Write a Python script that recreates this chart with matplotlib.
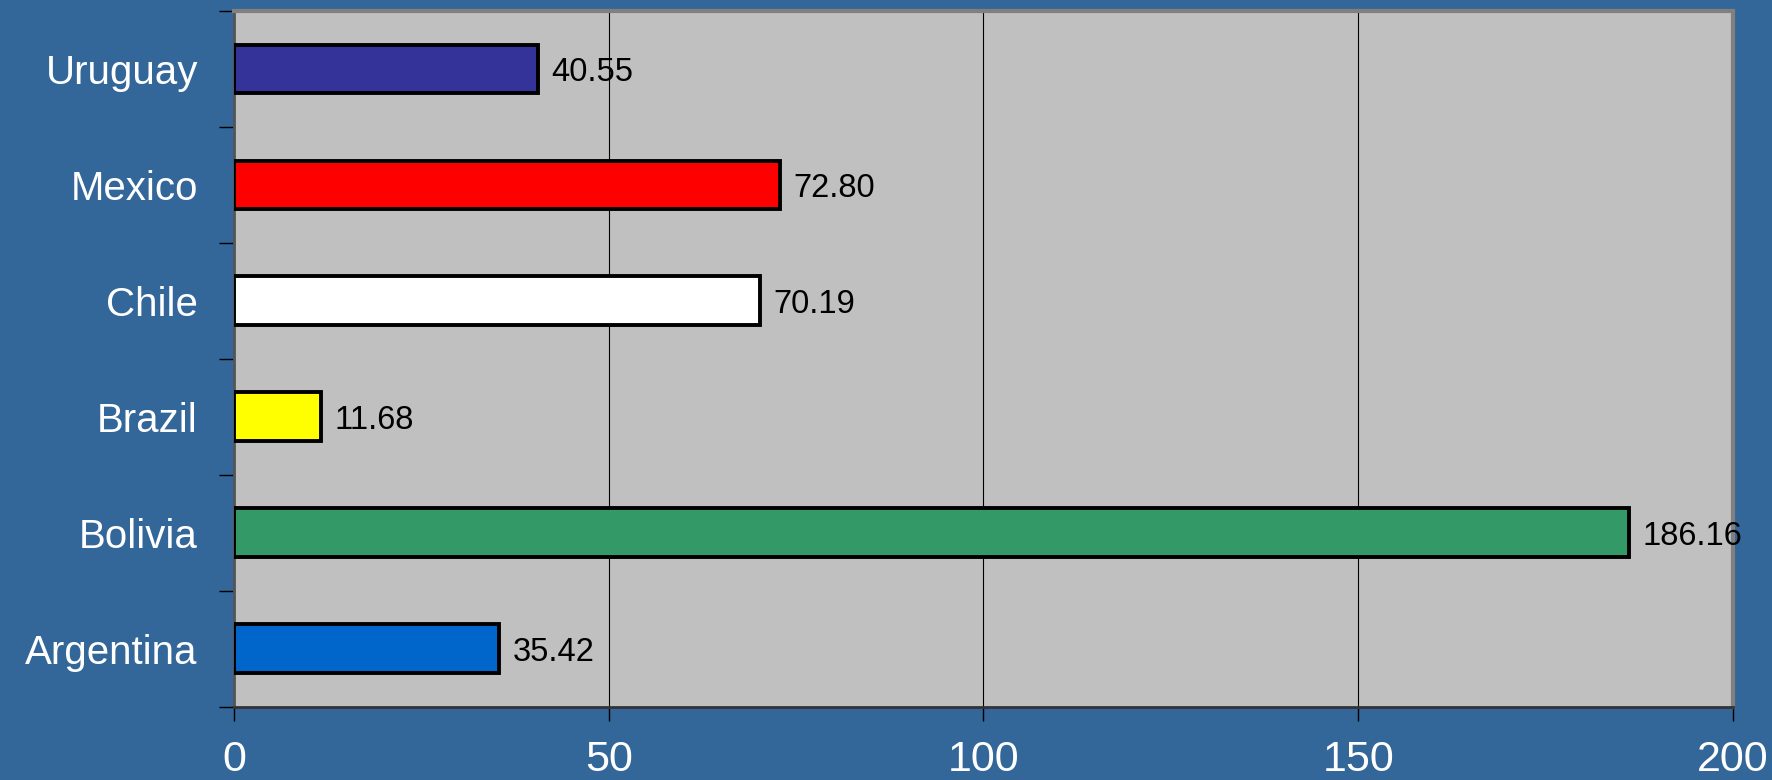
import matplotlib.pyplot as plt

countries = ["Argentina", "Bolivia", "Brazil", "Chile", "Mexico", "Uruguay"]
values = [35.42, 186.16, 11.68, 70.19, 72.80, 40.55]
colors = ["#0066CC", "#339966", "#FFFF00", "#FFFFFF", "#FF0000", "#333399"]
xticks = [0, 50, 100, 150, 200]

plt.rcParams['font.family'] = ['Liberation Sans', 'DejaVu Sans']

fig = plt.figure(figsize=(17.72, 7.8), dpi=100, facecolor="#336699")
ax = fig.add_axes([0.132, 0.094, 0.846, 0.892])
ax.set_facecolor("#C0C0C0")

pos = range(len(countries))
ax.barh(pos, values, height=0.42, color=colors, edgecolor="black", linewidth=2.8, zorder=3)

for y, v in zip(pos, values):
    ax.text(v + 1.8, y, "%.2f" % v, va="center_baseline", ha="left", fontsize=23.5, color="black", clip_on=False)

ax.set_xlim(0, 200)
ax.set_ylim(-0.5, len(countries) - 0.5)
ax.set_xticks(xticks)
ax.set_xticklabels([str(t) for t in xticks])
ax.xaxis.grid(True, color="black", linewidth=0.8, zorder=0)
ax.set_axisbelow(True)

ax.set_yticks(list(pos))
ax.set_yticklabels(countries)
ax.set_yticks([i - 0.5 for i in range(len(countries) + 1)], minor=True)
ax.tick_params(axis="y", which="major", length=0, pad=26, labelsize=29, labelcolor="white")
ax.tick_params(axis="y", which="minor", length=11, width=1, color="black")
ax.tick_params(axis="x", length=10, width=1, color="black", pad=14, labelsize=31, labelcolor="white")

for s in ["top", "right"]:
    ax.spines[s].set_color("#808080")
    ax.spines[s].set_linewidth(3)
ax.spines["left"].set_color("#555555")
ax.spines["left"].set_linewidth(2)
ax.spines["bottom"].set_color("#333333")
ax.spines["bottom"].set_linewidth(2)

plt.savefig("out.png", dpi=100, facecolor=fig.get_facecolor())
